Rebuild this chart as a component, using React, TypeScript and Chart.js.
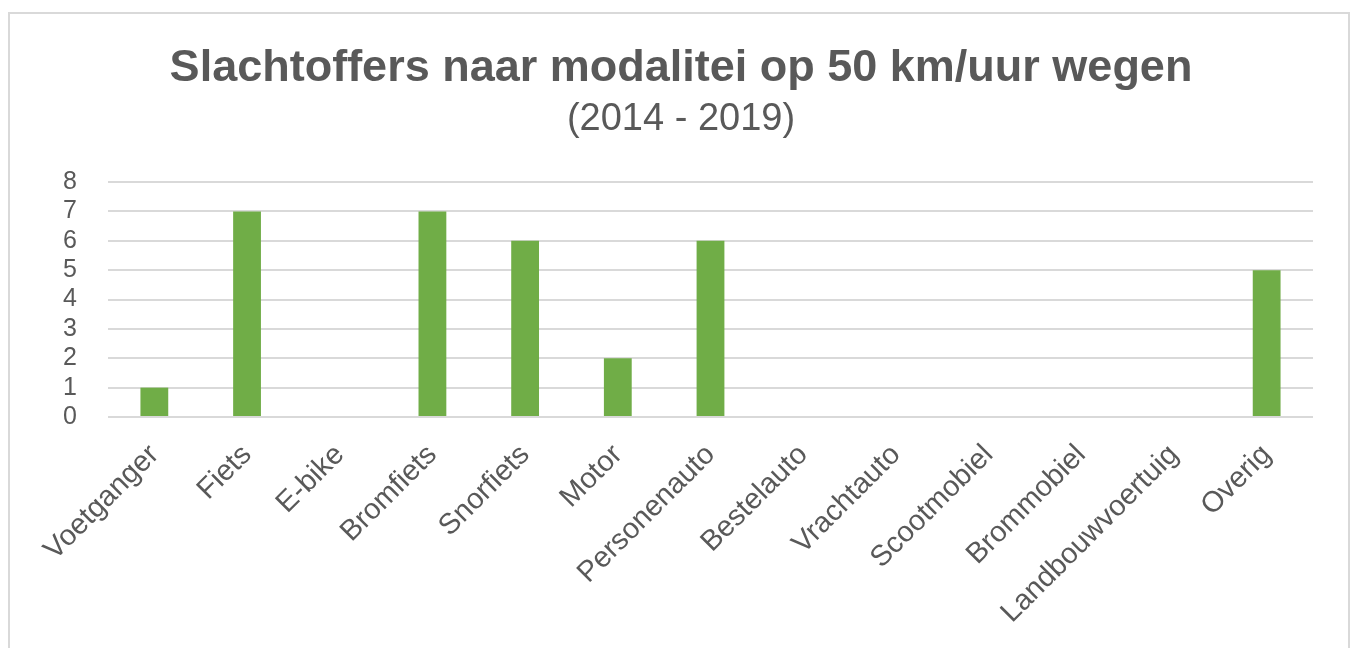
import React, { useEffect, useRef } from "react";
import { Chart, registerables } from "chart.js";

Chart.register(...registerables);

const categories = [
  "Voetganger",
  "Fiets",
  "E-bike",
  "Bromfiets",
  "Snorfiets",
  "Motor",
  "Personenauto",
  "Bestelauto",
  "Vrachtauto",
  "Scootmobiel",
  "Brommobiel",
  "Landbouwvoertuig",
  "Overig",
];
const victims = [1, 7, 0, 7, 6, 2, 6, 0, 0, 0, 0, 0, 5];
const yMin = 0;
const yMax = 8;
const yStep = 1;
const titleText = "Slachtoffers naar modalitei op 50 km/uur wegen";
const subtitleText = "(2014 - 2019)";

const FONT = "'Liberation Sans', Arial, sans-serif";
const TEXT = "#595959";
const GRID = "#d9d9d9";
const BAR = "#70AD47";

export default function App() {
  const ref = useRef<HTMLCanvasElement | null>(null);

  useEffect(() => {
    if (!ref.current) return;
    const chart = new Chart(ref.current, {
      type: "bar",
      data: {
        labels: categories,
        datasets: [
          {
            data: victims,
            backgroundColor: BAR,
            borderWidth: 0,
            barPercentage: 0.3,
            categoryPercentage: 1,
          },
        ],
      },
      options: {
        animation: false,
        responsive: false,
        maintainAspectRatio: false,
        layout: { padding: { left: 39, right: 35, top: 0, bottom: 0 } },
        plugins: {
          legend: { display: false },
          tooltip: { enabled: false },
          title: {
            display: true,
            text: titleText,
            color: TEXT,
            font: { family: FONT, size: 45, weight: "bold", lineHeight: 1.2 },
            padding: { top: 28, bottom: 0 },
          },
          subtitle: {
            display: true,
            text: subtitleText,
            color: TEXT,
            font: { family: FONT, size: 38, weight: "normal", lineHeight: 1.2 },
            padding: { top: 0.7, bottom: 39.7 },
          },
        },
        scales: {
          x: {
            grid: { display: false },
            border: { display: false },
            ticks: {
              color: TEXT,
              font: { family: FONT, size: 29 },
              maxRotation: 45,
              minRotation: 45,
              autoSkip: false,
              padding: 13,
            },
            afterFit: (s: any) => {
              s.height = 231;
            },
          },
          y: {
            min: yMin,
            max: yMax,
            grid: { color: GRID, lineWidth: 2, drawTicks: false },
            border: { display: false },
            ticks: {
              stepSize: yStep,
              autoSkip: false,
              color: TEXT,
              font: { family: FONT, size: 25 },
              padding: 31,
            },
            afterFit: (s: any) => {
              s.width = 59;
            },
          },
        },
      },
    });
    return () => chart.destroy();
  }, []);

  return (
    <div
      style={{
        position: "fixed",
        left: 8,
        top: 12,
        width: 1342,
        height: 700,
        boxSizing: "border-box",
        border: `2px solid ${GRID}`,
        background: "#fff",
      }}
    >
      <canvas ref={ref} width={1338} height={634} style={{ display: "block" }} />
    </div>
  );
}
